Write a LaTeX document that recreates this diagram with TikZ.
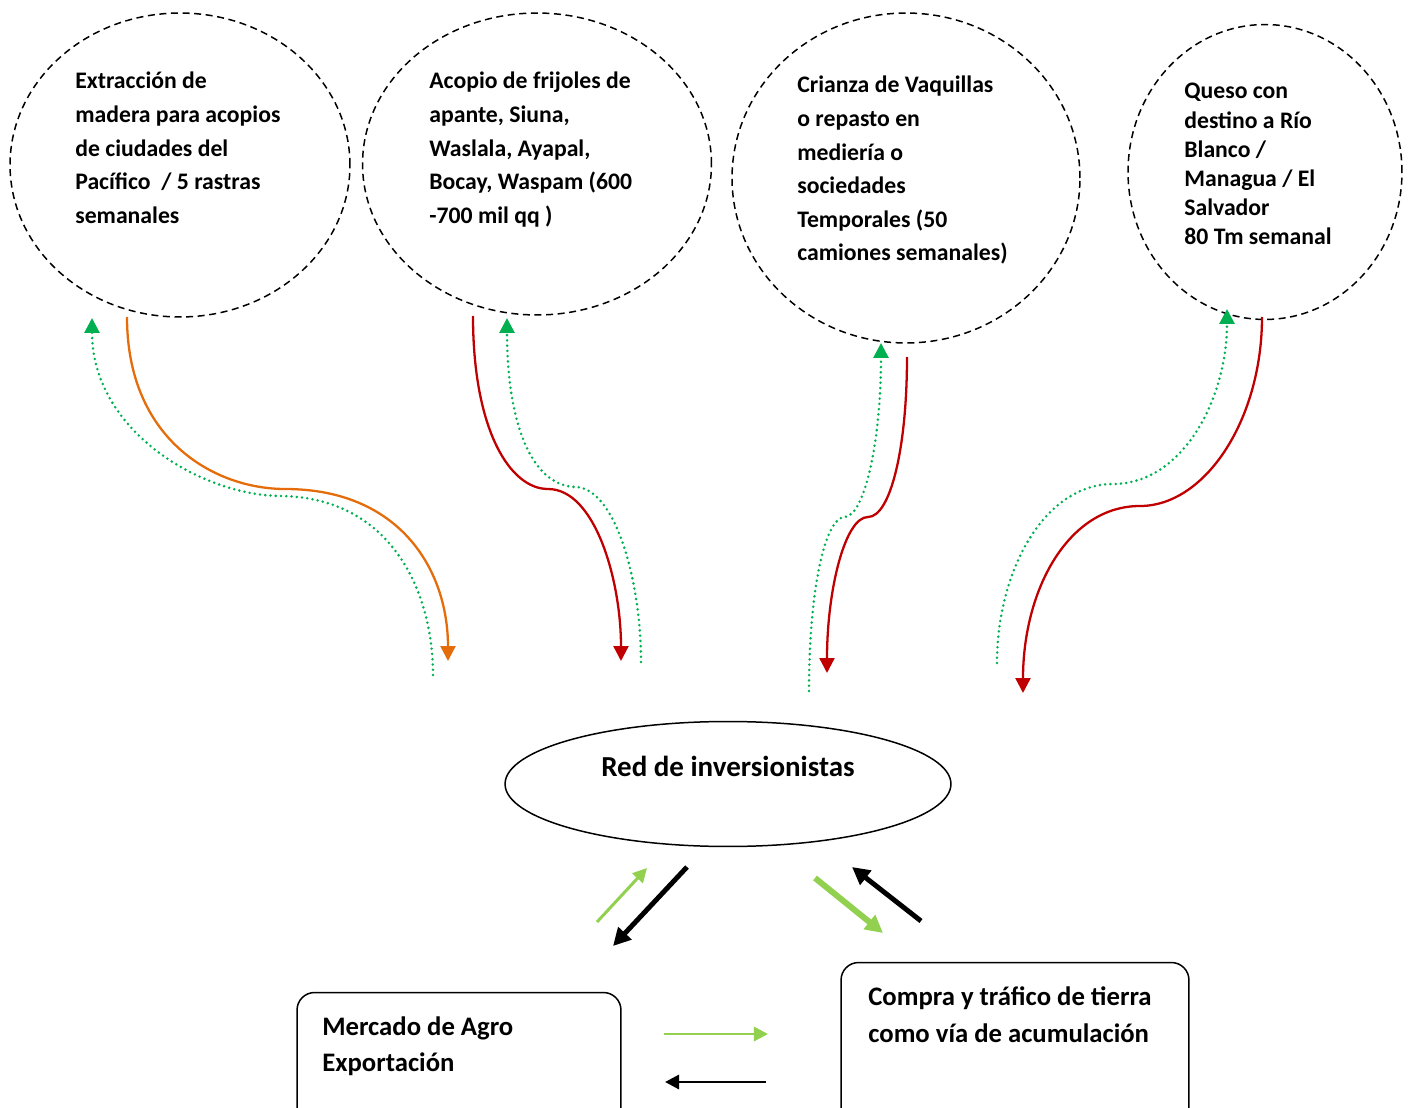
\documentclass[tikz,border=0pt]{standalone}
\usepackage{fontspec}
\setmainfont{Carlito}
\usetikzlibrary{shapes.geometric,arrows.meta,positioning}
\definecolor{leaf}{RGB}{0,176,80}
\definecolor{lime}{RGB}{146,208,80}
\definecolor{rust}{RGB}{228,108,10}
\definecolor{wine}{RGB}{192,0,0}

\begin{document}
\begin{tikzpicture}[x=0.02cm,y=-0.02cm,
		bubble/.style={ellipse,draw,line width=0.85pt,dash pattern=on 4pt off 2.6pt,inner sep=0pt,outer sep=0pt},
		txt/.style={anchor=north west,inner sep=0pt,align=left,font=\bfseries\fontsize{13.5}{19.1}\selectfont},
		boxtxt/.style={txt,font=\bfseries\fontsize{15.2}{21}\selectfont},
		panel/.style={draw,rounded corners=10pt,line width=0.85pt,inner sep=0pt},
		flow/.style={line width=1.3pt,-{Triangle[length=8.5pt,width=8.5pt]}},
		back/.style={leaf,line width=1.6pt,line cap=round,dash pattern=on 0pt off 3pt,
			-{Triangle[length=8.5pt,width=8.5pt]}},
		thin/.style={line width=1.7pt,-{Triangle[length=8pt,width=8pt]}},
		thick/.style={line width=2.8pt,-{Triangle[length=10pt,width=10pt]}}]
	\useasboundingbox (0,0) rectangle (1411,1108);

	% actividades
	\node[bubble,minimum width=6.8cm,minimum height=6.08cm] (c_1) at (180,165) {};
	\node[bubble,minimum width=6.98cm,minimum height=6.04cm] (c_2) at (537,164) {};
	\node[bubble,minimum width=6.96cm,minimum height=6.6cm] (c_3) at (906,178) {};
	\node[bubble,minimum width=5.48cm,minimum height=5.9cm] (c_4) at (1265,172) {};
	\node[txt] (t_1) at (75,72) {Extracción de\\madera para acopios\\de ciudades del\\Pacífico~~/ 5 rastras\\semanales};
	\node[txt] (t_2) at (429,72) {Acopio de frijoles de\\apante, Siuna,\\Waslala, Ayapal,\\Bocay, Waspam (600\\-700 mil qq )};
	\node[txt] (t_3) at (797,76) {Crianza de Vaquillas\\o repasto en\\mediería o\\sociedades\\Temporales (50\\camiones semanales)};
	\node[txt,font=\bfseries\fontsize{13.5}{16.6}\selectfont] (t_4) at (1184,83) {Queso con\\destino a Río\\Blanco /\\Managua / El\\Salvador\\80 Tm semanal};

	% red y destinos
	\node[ellipse,draw,line width=0.85pt,minimum width=8.92cm,minimum height=2.5cm,inner sep=0pt] (red) at (728,784) {};
	\node[font=\bfseries\fontsize{16.5}{20}\selectfont] (redtxt) at (728,766) {Red de inversionistas};
	\node[panel,minimum width=6.48cm,minimum height=2.7cm] (mer) at (459,1060) {};
	\node[panel,minimum width=6.96cm,minimum height=3.3cm] (com) at (1015,1045) {};
	\node[boxtxt] (mertxt) at (322,1016) {Mercado de Agro\\Exportación};
	\node[boxtxt] (comtxt) at (868,986) {Compra y tráfico de tierra\\como vía de acumulación};

	% extremos libres
	\coordinate (o_1) at (127,317); \coordinate (i_1) at (448,661);
	\coordinate (b_1) at (433,675); \coordinate (u_1) at (92,318);
	\coordinate (o_2) at (473,316); \coordinate (i_2) at (621,661);
	\coordinate (b_2) at (641,662); \coordinate (u_2) at (507,318);
	\coordinate (o_3) at (907,357); \coordinate (i_3) at (827,673);
	\coordinate (b_3) at (809,691); \coordinate (u_3) at (881,343);
	\coordinate (o_4) at (1262,317); \coordinate (i_4) at (1023,693);
	\coordinate (b_4) at (997,663); \coordinate (u_4) at (1227,309);

	\draw[flow,rust] (o_1) .. controls (127,440) and (215,489) .. (285,489) .. controls (400,489) and (448,570) .. (i_1);
	\draw[back] (b_1) .. controls (433,590) and (390,497) .. (280,496) .. controls (200,495) and (92,430) .. (u_1);
	\draw[flow,wine] (o_2) .. controls (473,430) and (510,489) .. (548,489) .. controls (595,489) and (621,580) .. (i_2);
	\draw[back] (b_2) .. controls (641,580) and (615,487) .. (575,487) .. controls (530,485) and (507,420) .. (u_2);
	\draw[flow,wine] (o_3) .. controls (907,450) and (890,517) .. (868,517) .. controls (845,517) and (827,590) .. (i_3);
	\draw[back] (b_3) .. controls (809,590) and (825,517) .. (845,517) .. controls (865,515) and (881,440) .. (u_3);
	\draw[flow,wine] (o_4) .. controls (1262,420) and (1205,506) .. (1140,506) .. controls (1068,506) and (1023,590) .. (i_4);
	\draw[back] (b_4) .. controls (997,570) and (1045,484) .. (1113,484) .. controls (1182,484) and (1227,400) .. (u_4);

	% intercambios
	\coordinate (g_1) at (597,922); \coordinate (g_2) at (647,868);
	\coordinate (k_1) at (687,867); \coordinate (k_2) at (613,946);
	\coordinate (g_3) at (815,878); \coordinate (g_4) at (883,933);
	\coordinate (k_3) at (921,921); \coordinate (k_4) at (852,867);
	\coordinate (g_5) at (664,1034); \coordinate (g_6) at (768,1034);
	\coordinate (k_5) at (766,1082); \coordinate (k_6) at (665,1082);
	\draw[thin,lime] (g_1) -- (g_2);
	\draw[thick] (k_1) -- (k_2);
	\draw[thick,lime,line width=3.4pt] (g_3) -- (g_4);
	\draw[thick] (k_3) -- (k_4);
	\draw[thin,lime] (g_5) -- (g_6);
	\draw[thin,black] (k_5) -- (k_6);
\end{tikzpicture}
\end{document}
